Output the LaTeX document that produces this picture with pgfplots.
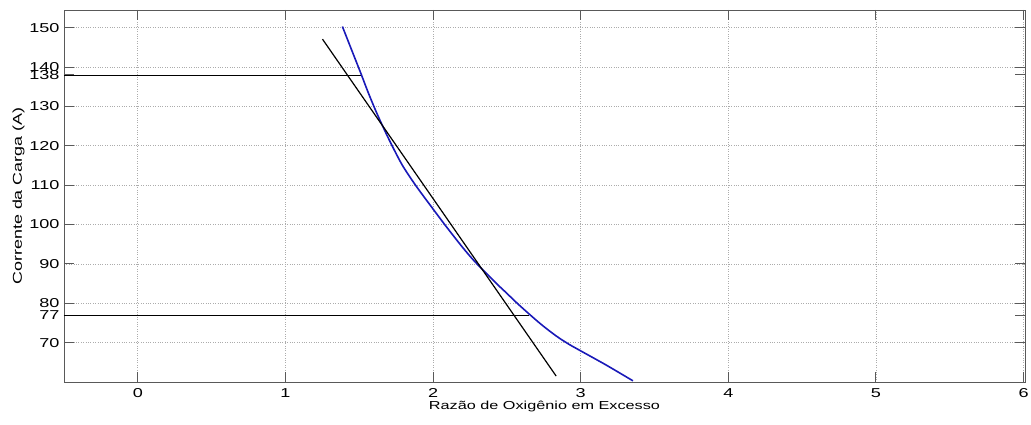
\documentclass[border=0pt]{standalone}
\usepackage{pgfplots}
\pgfplotsset{compat=1.18}
\usepackage{fontspec}
\setmainfont{Liberation Sans}[FakeStretch=1.4]
\definecolor{mblue}{rgb}{0.1,0.1,0.72}
\begin{document}
\begin{tikzpicture}
\begin{axis}[
  name=ax,
  scale only axis, width=961pt, height=372pt,
  xmin=-0.5, xmax=6.01, ymin=60, ymax=154.5,
  xtick={0,1,...,6}, ytick={70,80,...,150},
  extra y ticks={77,138}, extra y tick style={grid=none},
  grid=major, grid style={dotted, gray!65, line width=0.7pt},
  tick align=inside, major tick length=10pt,
  axis line style={black!65, line width=0.9pt},
  tick style={black!65, line width=0.9pt},
  /pgf/number format/assume math mode=true,
  every tick label/.append style={font=\fontsize{12.9}{14}\selectfont},
  xticklabel style={yshift=-3pt},
  yticklabel style={xshift=-1pt},
  xlabel={Razão de Oxigênio em Excesso},
  ylabel={Corrente da Carga (A)},
  xlabel style={font=\fontsize{11.6}{13}\selectfont, yshift=3pt},
  ylabel style={font=\fontsize{12.8}{14}\selectfont, yshift=-2pt},
]
\addplot[black, line width=0.8pt] coordinates {(-0.5,138) (1.513,138)};
\addplot[black, line width=0.8pt] coordinates {(-0.5,77) (2.653,77)};
\addplot[mblue, line width=1.6pt, smooth] coordinates {
(1.386,150.3) (1.45,144.2) (1.511,138.4) (1.56,133.6) (1.613,128.8)
(1.66,124.9) (1.703,121.5) (1.75,118.0) (1.793,115.0) (1.85,111.7)
(1.906,108.7) (1.997,104.1) (2.087,99.6) (2.2,94.2) (2.28,90.7)
(2.359,87.7) (2.43,85.0) (2.495,82.7) (2.57,80.0) (2.653,77.2)
(2.74,74.4) (2.834,71.7) (2.92,69.6) (3.015,67.6) (3.173,64.3) (3.354,60.3)};
\addplot[black, line width=1.2pt] coordinates {(1.251,147.1) (2.834,61.5)};
\end{axis}
\pgfresetboundingbox
\path[use as bounding box] ([shift={(-64pt,-43pt)}]ax.south west) rectangle ([shift={(6pt,10pt)}]ax.north east);
\end{tikzpicture}
\end{document}
